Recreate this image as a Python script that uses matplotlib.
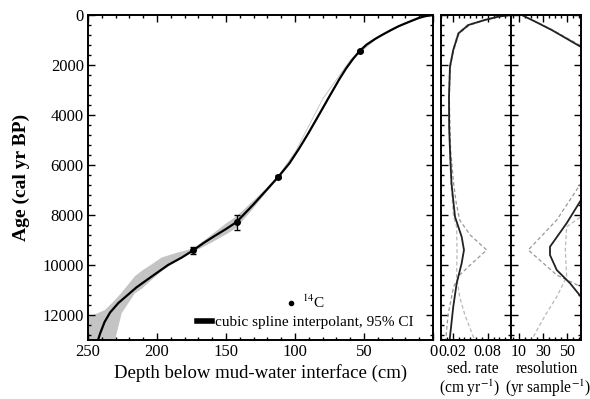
import numpy as np
import matplotlib
matplotlib.use("Agg")
import matplotlib.pyplot as plt
from matplotlib.ticker import MultipleLocator, FixedLocator
from matplotlib.lines import Line2D

plt.rcParams['font.family'] = ['Liberation Serif', 'DejaVu Serif']
plt.rcParams['mathtext.fontset'] = 'stix'

# ---------------- data ----------------
# 14C dates: depth (cm), age (cal yr BP), 1-sigma error
c14_depth = [53, 112, 142.3, 173.7]
c14_age = [1430, 6467, 8280, 9410]
c14_err = [50, 60, 300, 130]

# cubic spline age model
spline_depth = [0, 5, 10, 16.7, 25, 31, 37, 42, 48, 53, 58, 63, 68, 75, 82, 90, 97,
                104, 112, 120, 130, 142.3, 150, 158, 166, 173.7, 182, 192, 203.6,
                215, 228, 234, 238, 241.3, 245]
spline_age = [0, 40, 110, 260, 450, 620, 800, 960, 1180, 1430, 1760, 2140, 2580,
              3250, 3930, 4700, 5340, 5930, 6467, 6960, 7570, 8280, 8560, 8830,
              9110, 9410, 9700, 10000, 10450, 10900, 11520, 11900, 12280, 12750, 13400]

# 95% confidence band
band_depth = [0, 20, 40, 60, 80, 100, 112, 120, 130, 142.3, 150, 160, 173.7,
              185, 196.6, 204, 211, 216, 225.6, 230.4, 237.7, 245, 250]
band_young = [0, 320, 880, 1780, 3330, 5460, 6410, 6890, 7420, 8050, 8340, 8770,
              9340, 9500, 9700, 9980, 10230, 10450, 11100, 11400, 11800, 11980, 12070]
band_old = [0, 345, 920, 1850, 3400, 5540, 6530, 7040, 7720, 8510, 8780, 9090,
            9480, 9800, 10250, 10600, 10950, 11130, 11930, 13000, 14000, 15000, 16000]

# sedimentation rate (cm/yr) vs age
sed_age = [0, 67, 200, 400, 733, 1400, 2070, 3270, 4500, 5400, 6730, 8070, 8870,
           9400, 9930, 10730, 11670, 12870, 13000]
sed_val = [0.12, 0.098, 0.075, 0.047, 0.030, 0.021, 0.0154, 0.0137, 0.0140, 0.0154,
           0.018, 0.024, 0.0354, 0.0394, 0.0354, 0.0269, 0.021, 0.0154, 0.015]
sed_ci1_age = [0, 67, 200, 400, 733, 1400, 2070, 3270, 5400, 6730, 7500, 8200, 8800,
               9400, 10000, 10400, 10870, 12000, 13000]
sed_ci1_val = [0.12, 0.1, 0.077, 0.049, 0.031, 0.0218, 0.016, 0.0142, 0.0165, 0.0216,
               0.026, 0.032, 0.05, 0.0783, 0.05, 0.032, 0.0216, 0.012, 0.008]
sed_ci2_age = [0, 67, 200, 400, 733, 1400, 2070, 3270, 5400, 6730, 8070, 8470, 9400,
               10470, 11270, 12000, 12870, 13000]
sed_ci2_val = [0.12, 0.096, 0.073, 0.045, 0.029, 0.0205, 0.0148, 0.0132, 0.0148,
               0.017, 0.0216, 0.0268, 0.0275, 0.0268, 0.032, 0.041, 0.0554, 0.058]

# resolution (yr/sample) vs age
res_top_age = [0, 300, 600, 900, 1270, 1350]
res_top_val = [12.4, 25, 37.2, 48, 61.2, 65]
res_low_age = [7200, 7400, 8330, 9270, 9600, 10200, 10730, 11270, 11500]
res_low_val = [64, 61.5, 49.6, 35.8, 35.8, 41.4, 52.4, 61.5, 65]
res_ci1_top_age = [0, 300, 600, 900, 1230, 1350]
res_ci1_top_val = [12.4, 25.5, 38, 49, 61.5, 66]
res_ci1_age = [6500, 6730, 8200, 9400, 10400, 10870, 11100]
res_ci1_val = [65, 61.5, 41.4, 17.8, 41.4, 61.5, 66]
res_ci2_age = [7900, 8070, 8470, 9400, 10470, 11270, 12000, 12870, 13000]
res_ci2_val = [64, 61.5, 49.6, 48.5, 49.6, 41.4, 32, 22, 20.5]

# ---------------- figure ----------------
W, H = 590, 399
fig = plt.figure(figsize=(W / 100, H / 100), dpi=100)

def fax(x0, y0, x1, y1):
    return fig.add_axes([x0 / W, 1 - y1 / H, (x1 - x0) / W, (y1 - y0) / H])

ax = fax(88, 15, 433, 340)
ax2 = fax(441, 15, 511, 340)
ax3 = fax(511, 15, 581, 340)

def style(a, fs):
    for s in a.spines.values():
        s.set_linewidth(1.4)
    a.tick_params(which='both', direction='in', top=True, right=True,
                  width=1.0, labelsize=fs, pad=3)
    a.tick_params(which='major', length=5)
    a.tick_params(which='minor', length=2.5)

# main panel
ax.fill_between(band_depth, band_young, band_old, color='#c4c4c4', lw=0)
ax.plot(spline_depth, spline_age, color='black', lw=1.6, zorder=3)
ax.errorbar(c14_depth, c14_age, yerr=c14_err, fmt='o', color='black',
            ms=4, capsize=2.5, elinewidth=1.0, zorder=4)
ax.set_xlim(250, 0)
ax.set_ylim(13000, 0)
ax.set_xticks([250, 200, 150, 100, 50, 0])
ax.xaxis.set_minor_locator(MultipleLocator(10))
ax.set_yticks(np.arange(0, 12001, 2000))
ax.yaxis.set_minor_locator(MultipleLocator(400))
style(ax, 12)
ax.set_xlabel('Depth below mud-water interface (cm)', fontsize=13.5, labelpad=3)
ax.set_ylabel('Age (cal yr BP)', fontsize=14, fontweight='bold', labelpad=9)

h1 = Line2D([], [], marker='o', ls='none', color='black', ms=3)
h2 = Line2D([], [], color='black', lw=4)
leg1 = ax.legend([h1], ['$^{14}$C'], loc='lower left', bbox_to_anchor=(0.54, 0.06),
                 frameon=False, fontsize=11, handlelength=1.0, handletextpad=0.2,
                 borderpad=0.1)
ax.add_artist(leg1)
ax.legend([h2], ['cubic spline interpolant, 95% CI'], loc='lower right',
          bbox_to_anchor=(0.975, 0.0), frameon=False, fontsize=11,
          handlelength=1.0, handletextpad=0.2, borderpad=0.2)

# sed rate panel
ax2.plot(sed_ci1_val, sed_ci1_age, color='#999999', lw=0.9, ls=(0, (3, 2)))
ax2.plot(sed_ci2_val, sed_ci2_age, color='#b8b8b8', lw=0.9, ls=(0, (3, 2)))
ax2.plot(sed_val, sed_age, color='#222222', lw=1.3)
ax2.set_xlim(0, 0.12)
ax2.set_ylim(13000, 0)
ax2.xaxis.set_major_locator(FixedLocator([0.02, 0.08]))
ax2.xaxis.set_minor_locator(MultipleLocator(0.01))
ax2.set_xticklabels(['0.02', '0.08'])
ax2.yaxis.set_major_locator(MultipleLocator(2000))
ax2.yaxis.set_minor_locator(MultipleLocator(400))
ax2.set_yticklabels([])
style(ax2, 11.5)

# resolution panel
ax3.plot(res_ci1_top_val, res_ci1_top_age, color='#999999', lw=0.9, ls=(0, (3, 2)))
ax3.plot(res_ci1_val, res_ci1_age, color='#999999', lw=0.9, ls=(0, (3, 2)))
ax3.plot(res_ci2_val, res_ci2_age, color='#b8b8b8', lw=0.9, ls=(0, (3, 2)))
ax3.plot(res_top_val, res_top_age, color='#222222', lw=1.3)
ax3.plot(res_low_val, res_low_age, color='#222222', lw=1.3)
ax3.set_xlim(3.5, 61.5)
ax3.set_ylim(13000, 0)
ax3.xaxis.set_major_locator(FixedLocator([10, 30, 50]))
ax3.xaxis.set_minor_locator(MultipleLocator(5))
ax3.yaxis.set_major_locator(MultipleLocator(2000))
ax3.yaxis.set_minor_locator(MultipleLocator(400))
ax3.set_yticklabels([])
style(ax3, 11.5)

# panel axis titles (two lines each)
def ftext(x, y, s):
    fig.text(x / W, 1 - y / H, s, ha='center', va='center', fontsize=11.2)

ftext(473, 369, 'sed. rate')
ftext(470, 388, '(cm yr$^{-1}$)')
ftext(547, 369, 'resolution')
ftext(548, 388, '(yr sample$^{-1}$)')

fig.savefig('out.png', dpi=100)
